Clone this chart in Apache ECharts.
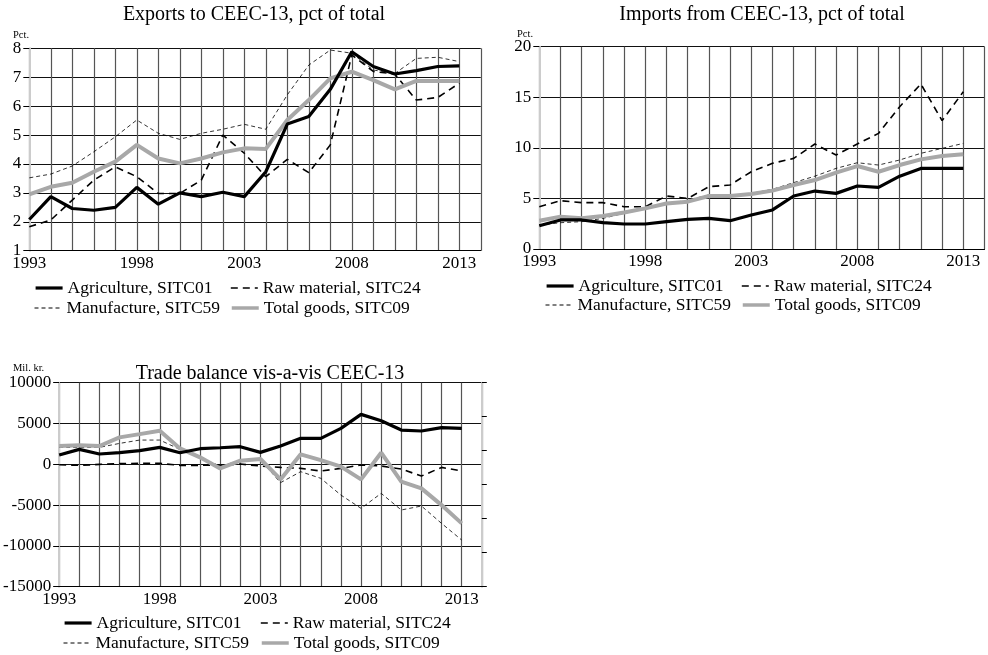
<!DOCTYPE html>
<html>
<head>
<meta charset="utf-8">
<script src="https://cdn.jsdelivr.net/npm/echarts@6/dist/echarts.min.js"></script>
<style>
html,body{margin:0;padding:0;background:#fff;}
#main{width:988px;height:655px;}
</style>
</head>
<body>
<div id="main"></div>
<script>
// ---- data ----
var years = [1993,1994,1995,1996,1997,1998,1999,2000,2001,2002,2003,2004,2005,2006,2007,2008,2009,2010,2011,2012,2013];
var xTickLabels = [1993,1998,2003,2008,2013];
var seriesNames = ['Agriculture, SITC01','Raw material, SITC24','Manufacture, SITC59','Total goods, SITC09'];

// Exports to CEEC-13, pct of total
var expAgri  = [2.08,2.87,2.46,2.40,2.50,3.19,2.61,3.00,2.87,3.02,2.87,3.73,5.38,5.64,6.58,7.88,7.37,7.11,7.23,7.37,7.39];
var expRaw   = [1.83,2.06,2.75,3.44,3.90,3.56,2.98,2.98,3.44,5.00,4.37,3.56,4.16,3.70,4.66,7.77,7.20,7.11,6.21,6.30,6.79];
var expManu  = [3.52,3.65,3.93,4.42,4.94,5.52,5.06,4.85,5.06,5.20,5.37,5.20,6.39,7.42,7.94,7.83,7.25,7.13,7.65,7.69,7.54];
var expTotal = [2.95,3.21,3.35,3.73,4.08,4.66,4.19,4.02,4.19,4.40,4.54,4.52,5.52,6.21,6.96,7.19,6.90,6.58,6.87,6.87,6.87];

// Imports from CEEC-13, pct of total
var impAgri  = [2.3,2.87,2.87,2.6,2.47,2.47,2.7,2.93,3.03,2.8,3.36,3.86,5.24,5.73,5.5,6.23,6.1,7.2,7.97,7.97,7.97];
var impRaw   = [4.18,4.78,4.58,4.58,4.18,4.18,5.24,5.0,6.16,6.33,7.64,8.47,8.96,10.38,9.29,10.38,11.43,14.07,16.31,12.69,15.55];
var impManu  = [2.37,2.6,2.7,3.03,3.53,4.02,4.45,4.84,5.34,5.24,5.5,5.9,6.56,7.2,7.97,8.53,8.3,8.8,9.46,9.95,10.44];
var impTotal = [2.8,3.2,3.03,3.26,3.6,4.02,4.5,4.68,5.24,5.24,5.44,5.77,6.33,6.82,7.55,8.2,7.64,8.3,8.86,9.19,9.36];

// Trade balance vis-a-vis CEEC-13, Mil. kr.
var balAgri  = [1136,1830,1260,1420,1670,2075,1420,1910,2030,2160,1460,2240,3180,3180,4400,6120,5340,4200,4080,4490,4400];
var balRaw   = [-50,-130,-10,80,110,110,-130,-130,-90,30,-210,-380,-500,-820,-500,-90,-210,-580,-1440,-380,-820];
var balManu  = [2075,2075,2075,2560,2970,2970,1830,810,-210,440,520,-2250,-900,-1720,-3770,-5400,-3560,-5600,-5110,-7240,-9280];
var balTotal = [2240,2320,2240,3300,3700,4120,1950,850,-500,440,650,-1850,1220,520,-290,-1850,1420,-2130,-2950,-5000,-7240];

// ---- chart ----
var FONT = 'Liberation Serif';
function pairs(vals){ return years.map(function(y,i){ return [y, vals[i]]; }); }

var styles = [
  {color:'#000000', width:3.2, type:'solid', legendW:3.2},
  {color:'#000000', width:1.6, type:[7,5], legendW:1.6},
  {color:'#000000', width:0.8, type:[4,3], legendW:1},
  {color:'#a8a8a8', width:4, type:'solid', legendW:3.5}
];

function mkSeries(gi, arrs){
  return arrs.map(function(a, k){
    return {
      type:'line', name:seriesNames[k], xAxisIndex:gi, yAxisIndex:gi,
      data:pairs(a), symbol:'none', showSymbol:false, animation:false,
      lineStyle:{color:styles[k].color, width:styles[k].width, type:styles[k].type},
      itemStyle:{color:styles[k].color},
      z: k===0 ? 5 : (k===3 ? 4 : 3)
    };
  });
}

function mkX(gi){
  return {
    type:'value', gridIndex:gi, min:1993, max:2014, interval:1,
    axisLine:{show:true, onZero:false, lineStyle:{color:'#000', width:1}},
    axisTick:{show:false},
    splitLine:{show:true, lineStyle:{color:'#555', width:1.2}},
    axisLabel:{
      margin:4, color:'#000', fontFamily:FONT, fontSize:17,
      formatter:function(v){ return xTickLabels.indexOf(v) >= 0 ? String(v) : ''; }
    }
  };
}
function mkY(gi, min, max, interval){
  return {
    type:'value', gridIndex:gi, min:min, max:max, interval:interval,
    axisLine:{show:true, lineStyle:{color:'#cccccc', width:2}},
    axisTick:{show:true, length:6, lineStyle:{color:'#000'}},
    splitLine:{show:true, lineStyle:{color:'#111', width:1}},
    axisLabel:{margin:8, color:'#000', fontFamily:FONT, fontSize:17,
      formatter:function(v){ return String(v); }}
  };
}

function mkLegends(col1, col2, row1, row2){
  var pos = [[col1,row1],[col2,row1],[col1,row2],[col2,row2]];
  return seriesNames.map(function(n,k){
    return {
      data:[n], left:pos[k][0], top:pos[k][1]-9, padding:0,
      itemWidth:27, itemHeight:14, itemGap:0, selectedMode:false,
      itemStyle:{color:'rgba(0,0,0,0)', borderWidth:0, opacity:0},
      lineStyle:{color:styles[k].color, width:styles[k].legendW, type:styles[k].type},
      textStyle:{fontFamily:FONT, fontSize:17.5, color:'#000'}
    };
  });
}

var titleStyle = {fontFamily:FONT, fontSize:20, fontWeight:'normal', color:'#000'};
var smallStyle = {fontFamily:FONT, fontSize:10.5, fontWeight:'normal', color:'#000'};

var yRight = {
  type:'value', gridIndex:2, position:'right', min:0, max:6, interval:1,
  axisLine:{show:true, lineStyle:{color:'#cccccc', width:2}},
  axisTick:{show:true, length:5, lineStyle:{color:'#000'}},
  axisLabel:{show:false}, splitLine:{show:false}
};

var option = {
  backgroundColor:'#fff',
  animation:false,
  title:[
    {text:'Exports to CEEC-13, pct of total', left:254, top:5, textAlign:'center', textStyle:titleStyle, padding:0},
    {text:'Imports from CEEC-13, pct of total', left:762, top:5, textAlign:'center', textStyle:titleStyle, padding:0},
    {text:'Trade balance vis-a-vis CEEC-13', left:270, top:364, textAlign:'center', textStyle:titleStyle, padding:0},
    {text:'Pct.', left:13, top:30, textStyle:smallStyle, padding:0},
    {text:'Pct.', left:517, top:29, textStyle:smallStyle, padding:0},
    {text:'Mil. kr.', left:13, top:363, textStyle:smallStyle, padding:0}
  ],
  grid:[
    {left:29.3, top:48.3, right:507.2, bottom:404.3, containLabel:false},
    {left:539.3, top:46.7, right:3.5, bottom:406, containLabel:false},
    {left:58.3, top:382.7, right:506.2, bottom:68.3, containLabel:false}
  ],
  xAxis:[mkX(0), mkX(1), mkX(2)],
  yAxis:[mkY(0,1,8,1), mkY(1,0,20,5), mkY(2,-15000,10000,5000), yRight],
  legend:[].concat(
    mkLegends(34, 230, 288, 308),
    mkLegends(545, 741, 286, 305),
    mkLegends(63, 260, 623, 643)
  ),
  series:[].concat(
    mkSeries(0,[expAgri,expRaw,expManu,expTotal]),
    mkSeries(1,[impAgri,impRaw,impManu,impTotal]),
    mkSeries(2,[balAgri,balRaw,balManu,balTotal])
  )
};

var chart = echarts.init(document.getElementById('main'), null, {renderer:'canvas'});
chart.setOption(option);
</script>
</body>
</html>
